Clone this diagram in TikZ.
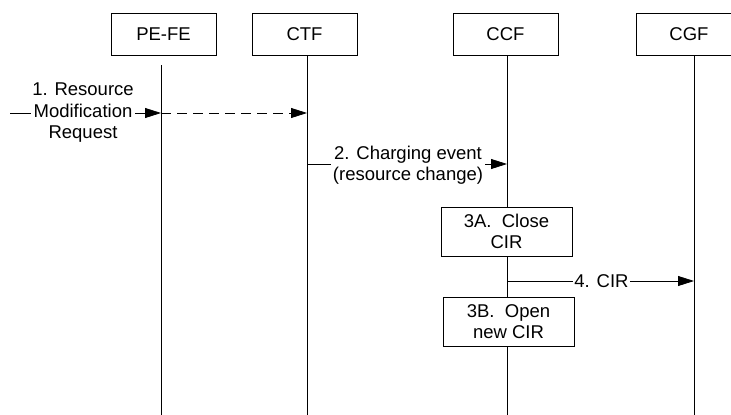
\documentclass[tikz,border=0pt]{standalone}
\usepackage{fontspec}
\setmainfont{Liberation Sans}
\usetikzlibrary{arrows.meta}
\begin{document}
\begin{tikzpicture}[x=1pt,y=-1pt,
  font=\fontsize{18.5}{21.5}\selectfont,
  line width=0.8pt,
  entity/.style={draw, minimum width=105pt, minimum height=42pt, inner sep=0pt},
  actbox/.style={draw, fill=white, minimum width=131pt, minimum height=49pt, inner sep=0pt, align=center},
  msg/.style={-{Triangle[length=16pt,width=10pt]}},
  lbl/.style={fill=white, inner xsep=1.5pt, inner ysep=0pt, align=center}]
\useasboundingbox (0,0) rectangle (731,415);

% entity boxes
\node[entity] (pefe) at (163.5,34) {PE-FE};
\node[entity] (ctf)  at (304.5,34) {CTF};
\node[entity] (ccf)  at (505.5,34) {CCF};
\node[entity] (cgf)  at (689,34)   {CGF};

% lifeline end points
\coordinate (pefe-top) at (161,65);
\coordinate (pefe-bot) at (161,415);
\coordinate (ctf-top)  at (307,55);
\coordinate (ctf-bot)  at (307,415);
\coordinate (ccf-top)  at (507,55);
\coordinate (ccf-bot)  at (507,415);
\coordinate (cgf-top)  at (694,55);
\coordinate (cgf-bot)  at (694,415);

\draw (pefe-top) -- (pefe-bot);
\draw (ctf-top) -- (ctf-bot);
\draw (ccf-top) -- (ccf-bot);
\draw (cgf-top) -- (cgf-bot);

% message 1
\coordinate (src) at (10,113);
\coordinate (m1a) at (161,113);
\coordinate (m1b) at (307,113);
\draw[msg] (src) -- (m1a);
\draw[msg, dash pattern=on 10pt off 6pt] (m1a) -- (m1b);
\node[lbl] (l1) at (83,113) {1. Resource\\Modification\\Request};

% message 2
\coordinate (m2a) at (307,164);
\coordinate (m2b) at (507,164);
\draw[msg] (m2a) -- (m2b);
\node[lbl] (l2) at (408,165) {2. Charging event\\(resource change)};

% message 4
\coordinate (m4a) at (507,281);
\coordinate (m4b) at (694,281);
\draw[msg] (m4a) -- (m4b);
\node[lbl] (l4) at (601.5,281) {4. CIR};

% local actions on the CCF lifeline
\node[actbox] (a3) at (506.5,231.5) {3A.\ \ Close\\CIR};
\node[actbox] (b3) at (508.5,321.5) {3B.\ \ Open\\new CIR};
\end{tikzpicture}
\end{document}
